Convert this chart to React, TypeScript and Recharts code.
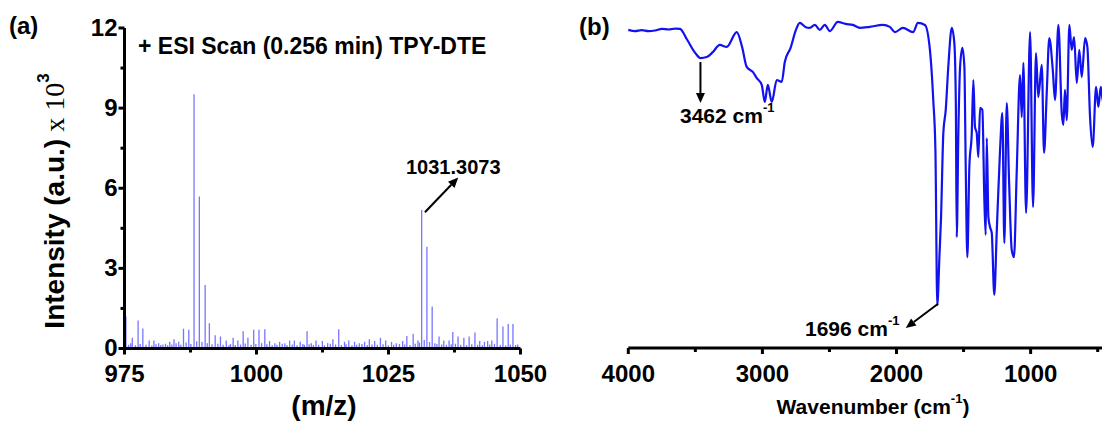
import React from "react";
import { ComposedChart, Bar, LineChart, Line, XAxis, YAxis, ReferenceLine } from "recharts";

// ---- (a) ESI mass spectrum ----
const msTicksX = [975, 987.5, 1000, 1012.5, 1025, 1037.5, 1050];
const msMajorX = [975, 1000, 1025, 1050];
const msTicksY = [0, 1.5, 3, 4.5, 6, 7.5, 9, 10.5, 12];
const msMajorY = [0, 3, 6, 9, 12];

// centroid sticks: m/z and intensity (x10^3)
const peakMz = [
  975.3, 976.5, 977.6, 978.5, 979.7, 980.6, 981.5, 982.3, 983.6, 984.4, 985.3, 986.2, 987.2,
  988.2, 989.2, 990.3, 991.1, 992.2, 993.2, 994.3, 995.6, 996.5, 997.5, 998.4, 999.5, 1000.5,
  1001.6, 1002.5, 1003.5, 1004.4, 1005.4, 1006.3, 1007.2, 1008.3, 1009.6, 1010.4, 1011.3,
  1012.5, 1013.5, 1014.5, 1015.6, 1016.7, 1017.5, 1018.6, 1019.5, 1020.5, 1021.4, 1022.4,
  1023.5, 1024.5, 1025.6, 1026.5, 1027.7, 1028.5, 1029.7, 1030.6, 1031.3073, 1032.3, 1033.3,
  1034.6, 1035.5, 1036.5, 1037.2, 1038.2, 1039.3, 1040.3, 1041.4, 1042.3, 1043.2, 1043.8,
  1044.6, 1045.6, 1046.7, 1047.7, 1048.6, 1049.5,
];
const peakIntensity = [
  1.2, 0.4, 1.05, 0.75, 0.3, 0.3, 0.2, 0.15, 0.25, 0.35, 0.25, 0.74, 0.7,
  9.52, 5.69, 2.38, 0.95, 0.5, 0.45, 0.3, 0.4, 0.3, 0.65, 0.4, 0.7, 0.7,
  0.72, 0.28, 0.2, 0.25, 0.2, 0.3, 0.3, 0.25, 0.65, 0.2, 0.3,
  0.28, 0.2, 0.35, 0.72, 0.25, 0.3, 0.25, 0.2, 0.25, 0.35, 0.28,
  0.4, 0.3, 0.25, 0.2, 0.28, 0.47, 0.55, 0.3, 5.19, 3.81, 1.57,
  0.45, 0.3, 0.3, 0.62, 0.45, 0.4, 0.45, 0.6, 0.28, 0.25, 0.28,
  0.3, 1.13, 0.82, 0.92, 0.92, 0.15,
];

// low-level baseline noise sticks
const noiseMz = [
  975.8, 976.2, 977.1, 978.0, 979.1, 980.2, 981.0, 981.9, 982.8, 983.2, 984.0, 984.8, 985.7,
  986.7, 987.6, 988.7, 989.7, 990.7, 991.6, 992.7, 993.7, 994.8, 995.1, 996.0, 997.0, 997.9,
  999.0, 999.9, 1001.0, 1002.0, 1003.0, 1003.9, 1004.9, 1005.8, 1006.8, 1007.7, 1008.8, 1009.1,
  1010.0, 1010.8, 1011.8, 1012.9, 1014.0, 1015.0, 1016.1, 1017.0, 1018.1, 1019.0, 1020.0,
  1021.0, 1021.9, 1022.9, 1024.0, 1025.0, 1026.0, 1027.1, 1028.1, 1029.1, 1030.1, 1030.9,
  1031.8, 1032.8, 1033.8, 1034.2, 1035.1, 1036.0, 1036.9, 1037.7, 1038.7, 1039.8, 1040.8,
  1041.9, 1042.8, 1044.2, 1045.1, 1046.2, 1047.2, 1048.1, 1049.1,
];
const noiseIntensity = [
  0.14, 0.2, 0.12, 0.17, 0.14, 0.11, 0.16, 0.13, 0.18, 0.12, 0.15, 0.2, 0.14,
  0.22, 0.17, 0.27, 0.24, 0.2, 0.16, 0.18, 0.14, 0.12, 0.17, 0.13, 0.15, 0.19,
  0.14, 0.17, 0.2, 0.16, 0.12, 0.14, 0.18, 0.13, 0.15, 0.12, 0.17, 0.14,
  0.16, 0.13, 0.14, 0.12, 0.18, 0.15, 0.13, 0.16, 0.12, 0.14, 0.17,
  0.13, 0.15, 0.14, 0.16, 0.12, 0.14, 0.17, 0.15, 0.13, 0.18, 0.22,
  0.32, 0.24, 0.2, 0.17, 0.15, 0.14, 0.16, 0.18, 0.14, 0.13, 0.16,
  0.14, 0.12, 0.15, 0.17, 0.14, 0.12, 0.15, 0.13,
];

// ---- (b) FT-IR spectrum ----
const irTicks = [4000, 3500, 3000, 2500, 2000, 1500, 1000, 500];
const irMajor = [4000, 3000, 2000, 1000];

const wavenumber = [
  4000, 3950, 3900, 3850, 3800, 3750, 3700, 3650, 3615, 3560, 3500, 3462, 3415, 3370, 3318,
  3266, 3191, 3150, 3117, 3070, 3042, 3005, 2982, 2960, 2930, 2893, 2856, 2833, 2790, 2750,
  2721, 2680, 2647, 2609, 2572, 2535, 2497, 2438, 2380, 2326, 2274, 2200, 2102, 2050, 2012,
  1952, 1877, 1840, 1788, 1751, 1726, 1710, 1696, 1680, 1668, 1651, 1633, 1614, 1588, 1569,
  1558, 1551, 1539, 1526, 1509, 1494, 1484, 1472, 1457, 1439, 1427, 1415, 1402, 1390, 1377,
  1360, 1345, 1335, 1327, 1315, 1303, 1290, 1271, 1253, 1228, 1211, 1196, 1178, 1161, 1141,
  1124, 1104, 1079, 1066, 1054, 1034, 1004, 982, 960, 943, 917, 900, 880, 861, 835, 818, 793,
  768, 756, 744, 731, 711, 694, 676, 656, 637, 619, 594, 577, 557, 537, 512, 495, 477, 460,
  430, 400,
];
const transmittance = [
  97.0, 96.6, 96.9, 96.6, 96.8, 97.3, 97.1, 97.4, 97.3, 93.9, 89.9, 88.4, 88.7, 90.2, 92.4,
  91.8, 96.3, 91.5, 85.7, 84.1, 82.3, 80.2, 75.0, 80.2, 75.0, 81.7, 81.1, 87.2, 91.5, 97.0,
  99.1, 97.9, 97.6, 98.5, 97.0, 98.5, 96.6, 99.4, 98.8, 98.5, 97.6, 97.9, 98.5, 97.9, 96.3,
  97.6, 96.3, 99.1, 98.5, 90.9, 75.6, 60.4, 13.1, 28.0, 39.9, 65.5, 72.6, 85.7, 97.6, 93.0,
  75.6, 33.8, 65.5, 85.7, 91.5, 85.7, 55.2, 27.7, 55.2, 65.5, 81.7, 67.4, 65.5, 58.2, 73.2,
  72.6, 45.1, 34.5, 64.0, 39.9, 36.9, 35.1, 16.2, 35.1, 60.4, 71.6, 32.0, 74.7, 51.2, 29.9,
  27.7, 53.4, 83.2, 70.4, 86.9, 41.2, 96.3, 43.0, 89.9, 76.5, 86.3, 59.5, 77.7, 94.5, 84.8,
  75.6, 98.5, 71.6, 68.0, 78.7, 69.5, 98.5, 90.9, 94.8, 80.8, 90.9, 82.6, 94.5, 91.8, 70.4,
  61.3, 79.6, 73.5, 79.6, 75.0, 80.0, 78.0,
];

const msData = [
  ...peakMz.map((mz, i) => ({ mz, intensity: peakIntensity[i] })),
  ...noiseMz.map((mz, i) => ({ mz, intensity: noiseIntensity[i] })),
].sort((a, b) => a.mz - b.mz);

const irData = wavenumber.map((wn, i) => ({ wn, t: transmittance[i] }));

const FONT = "'Liberation Sans', Arial, sans-serif";
const BLUE = "#1212ee";

function makeXTick(majors: number[]) {
  return (props: any) => {
    const { x, y, payload } = props;
    const major = majors.includes(payload.value);
    return (
      <g>
        <line x1={x} y1={y} x2={x} y2={y + (major ? 6 : 4)} stroke="#000" strokeWidth={3} />
        {major && (
          <text x={x} y={y + 25} textAnchor="middle" dominantBaseline="central"
            fontFamily={FONT} fontWeight="bold" fontSize={24} fill="#000">
            {payload.value}
          </text>
        )}
      </g>
    );
  };
}

const MsYTick = (props: any) => {
  const { x, y, payload } = props;
  const major = msMajorY.includes(payload.value);
  return (
    <g>
      <line x1={x} y1={y} x2={x - (major ? 6 : 4)} y2={y} stroke="#000" strokeWidth={3} />
      {major && (
        <text x={x - 7} y={y - 1} textAnchor="end" dominantBaseline="central"
          fontFamily={FONT} fontWeight="bold" fontSize={24} fill="#000">
          {payload.value}
        </text>
      )}
    </g>
  );
};

// straight annotation arrow with a filled head at the segment end
const Arrow = (props: any) => {
  const { x1, y1, x2, y2 } = props;
  const a = Math.atan2(y2 - y1, x2 - x1);
  const len = 10;
  const w = 4.5;
  const bx = x2 - len * Math.cos(a);
  const by = y2 - len * Math.sin(a);
  const px = -Math.sin(a) * w;
  const py = Math.cos(a) * w;
  return (
    <g>
      <line x1={x1} y1={y1} x2={bx} y2={by} stroke="#000" strokeWidth={2} />
      <polygon points={`${x2},${y2} ${bx + px},${by + py} ${bx - px},${by - py}`} fill="#000" />
    </g>
  );
};

export default function App() {
  return (
    <div style={{ position: "absolute", left: 0, top: 0, width: 1102, height: 423, overflow: "hidden", background: "#fff" }}>
      <div style={{ position: "absolute", left: 0, top: 0 }}>
        <ComposedChart width={560} height={423} data={msData}
          margin={{ top: 28, right: 39.5, bottom: 0, left: 64.5 }}>
          <XAxis dataKey="mz" type="number" domain={[975, 1050]} ticks={msTicksX} interval={0}
            allowDataOverflow height={74.5} tickSize={0} tickMargin={0} tickLine={false}
            axisLine={{ stroke: "#000", strokeWidth: 3 }} tick={makeXTick(msMajorX)} />
          <YAxis type="number" domain={[0, 12]} ticks={msTicksY} interval={0} width={60}
            tickSize={0} tickMargin={0} tickLine={false}
            axisLine={{ stroke: "#000", strokeWidth: 3 }} tick={MsYTick} />
          <Bar dataKey="intensity" fill="#1a1aff" fillOpacity={0.6} barSize={1.3} isAnimationActive={false} />
          <ReferenceLine segment={[{ x: 1031.9, y: 5.1 }, { x: 1038.2, y: 6.4 }]} shape={Arrow} />
        </ComposedChart>
      </div>
      <div style={{ position: "absolute", left: 560, top: 0 }}>
        <LineChart width={560} height={423} data={irData}
          margin={{ top: 20, right: 8.9, bottom: 0, left: 68.3 }}>
          <XAxis dataKey="wn" type="number" domain={[400, 4000]} reversed ticks={irTicks} interval={0}
            height={75} tickSize={0} tickMargin={0} tickLine={false}
            axisLine={{ stroke: "#000", strokeWidth: 3 }} tick={makeXTick(irMajor)} />
          <YAxis type="number" domain={[0, 100]} hide />
          <Line dataKey="t" type="monotone" stroke={BLUE} strokeWidth={2.2} dot={false} isAnimationActive={false} />
          <ReferenceLine segment={[{ x: 3462, y: 87.2 }, { x: 3462, y: 74.7 }]} shape={Arrow} />
          <ReferenceLine segment={[{ x: 1690, y: 13.5 }, { x: 1931, y: 6.1 }]} shape={Arrow} />
        </LineChart>
      </div>
      <svg width={1102} height={423} style={{ position: "absolute", left: 0, top: 0, pointerEvents: "none" }}
        fontFamily={FONT} fontWeight="bold" fill="#000">
        <text x={9} y={25} fontSize={24} dominantBaseline="central">(a)</text>
        <text x={579} y={26} fontSize={24} dominantBaseline="central">(b)</text>
        <text x={138} y={46} fontSize={23} dominantBaseline="central">+ ESI Scan (0.256 min) TPY-DTE</text>
        <text x={406} y={167} fontSize={20} dominantBaseline="central">1031.3073</text>
        <text transform="translate(54,201) rotate(-90)" textAnchor="middle" dominantBaseline="central" fontSize={28}>
          Intensity (a.u.)
          <tspan fontFamily="'Liberation Serif', serif" fontWeight="normal"> x 10</tspan>
          <tspan fontSize={17} dy={-11}>3</tspan>
        </text>
        <text x={324} y={405} fontSize={28} textAnchor="middle" dominantBaseline="central">(m/z)</text>
        <text x={680} y={115} fontSize={21} dominantBaseline="central">
          3462 cm<tspan fontSize={13} dy={-8}>-1</tspan>
        </text>
        <text x={805} y={328} fontSize={21} dominantBaseline="central">
          1696 cm<tspan fontSize={13} dy={-8}>-1</tspan>
        </text>
        <text x={873} y={406} fontSize={21} textAnchor="middle" dominantBaseline="central">
          Wavenumber (cm<tspan fontSize={13} dy={-8}>-1</tspan><tspan dy={8}>)</tspan>
        </text>
      </svg>
    </div>
  );
}
